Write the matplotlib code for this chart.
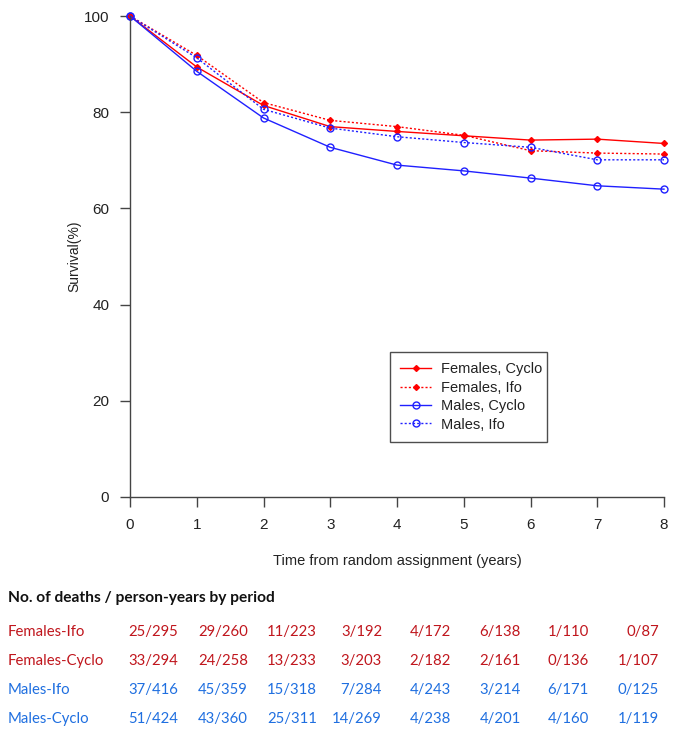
import matplotlib.pyplot as plt
import numpy as np

# survival curves
years = [0, 1, 2, 3, 4, 5, 6, 7, 8]
fem_cyclo = [100, 89.4, 81.4, 77.0, 76.0, 75.1, 74.2, 74.4, 73.5]
fem_ifo = [100, 91.8, 82.0, 78.3, 77.0, 75.2, 72.0, 71.5, 71.3]
male_cyclo = [100, 88.5, 78.8, 72.7, 69.0, 67.8, 66.3, 64.7, 64.0]
male_ifo = [100, 91.3, 80.6, 76.7, 74.9, 73.7, 72.7, 70.1, 70.1]

# deaths / person-years table
row_labels = ['Females-Ifo', 'Females-Cyclo', 'Males-Ifo', 'Males-Cyclo']
row_colors = ['#c0161d', '#c0161d', '#1f6fe0', '#1f6fe0']
table_vals = [
    ['25/295', '29/260', '11/223', '3/192', '4/172', '6/138', '1/110', '0/87'],
    ['33/294', '24/258', '13/233', '3/203', '2/182', '2/161', '0/136', '1/107'],
    ['37/416', '45/359', '15/318', '7/284', '4/243', '3/214', '6/171', '0/125'],
    ['51/424', '43/360', '25/311', '14/269', '4/238', '4/201', '4/160', '1/119'],
]

W, H = 673, 740
fig = plt.figure(figsize=(W / 100, H / 100), dpi=100)
plt.rcParams['font.family'] = ['Liberation Sans', 'DejaVu Sans']

ax = fig.add_axes([130 / W, 1 - 497 / H, 534 / W, 481 / H])
ax.set_xlim(0, 8)
ax.set_ylim(0, 100)

ax.plot(years, fem_cyclo, color='#ff0000', lw=1.0, ls='-', marker='D', ms=3,
        mfc='#ff0000', mec='#ff0000', label='Females, Cyclo', clip_on=False)
ax.plot(years, fem_ifo, color='#ff0000', lw=1.0, ls=(0, (1.5, 1.5)), marker='D', ms=3,
        mfc='#ff0000', mec='#ff0000', label='Females, Ifo', clip_on=False)
ax.plot(years, male_cyclo, color='#2020ff', lw=1.0, ls='-', marker='o', ms=5,
        mfc='none', mec='#2020ff', mew=1.0, label='Males, Cyclo', clip_on=False)
ax.plot(years, male_ifo, color='#2020ff', lw=1.0, ls=(0, (1.5, 1.5)), marker='o', ms=5,
        mfc='none', mec='#2020ff', mew=1.0, label='Males, Ifo', clip_on=False)

for s in ['top', 'right']:
    ax.spines[s].set_visible(False)
for s in ['left', 'bottom']:
    ax.spines[s].set_color('#444444')
    ax.spines[s].set_linewidth(1.0)

ax.set_xticks(years)
ax.set_yticks([0, 20, 40, 60, 80, 100])
ax.tick_params(direction='out', length=7, width=1.0, color='#444444',
               labelsize=11, labelcolor='#222222', pad=8)
ax.set_xlabel('Time from random assignment (years)', fontsize=10.5, color='#222222', labelpad=16)
ax.set_ylabel('Survival(%)', fontsize=10, color='#222222', labelpad=2)

leg = ax.legend(loc='upper left', bbox_to_anchor=(0.487, 0.301, 0.294, 0.0),
                mode='expand', fontsize=10.5, frameon=True, fancybox=False,
                borderpad=0.7, handlelength=2.1, labelspacing=0.3, handletextpad=0.7,
                borderaxespad=0.0)
leg.get_frame().set_edgecolor('#222222')
leg.get_frame().set_linewidth(1.0)
for t in leg.get_texts():
    t.set_color('#222222')

# table under the chart
tfont = ['Lato', 'DejaVu Sans']
fig.text(8 / W, 1 - 598 / H, 'No. of deaths / person-years by period', fontsize=11.2,
         fontweight='bold', family=tfont, va='center', ha='left', color='#111111')
col_right = [178, 248, 317, 382, 451, 521, 589, 659]
row_y = [632, 661, 690, 719]
for r in range(len(row_labels)):
    fig.text(8 / W, 1 - row_y[r] / H, row_labels[r], fontsize=10.7, family=tfont,
             color=row_colors[r], va='center', ha='left')
    for c in range(len(table_vals[r])):
        fig.text(col_right[c] / W, 1 - row_y[r] / H, table_vals[r][c], fontsize=10.7,
                 family=tfont, color=row_colors[r], va='center', ha='right')

fig.savefig('out.png', dpi=100)
